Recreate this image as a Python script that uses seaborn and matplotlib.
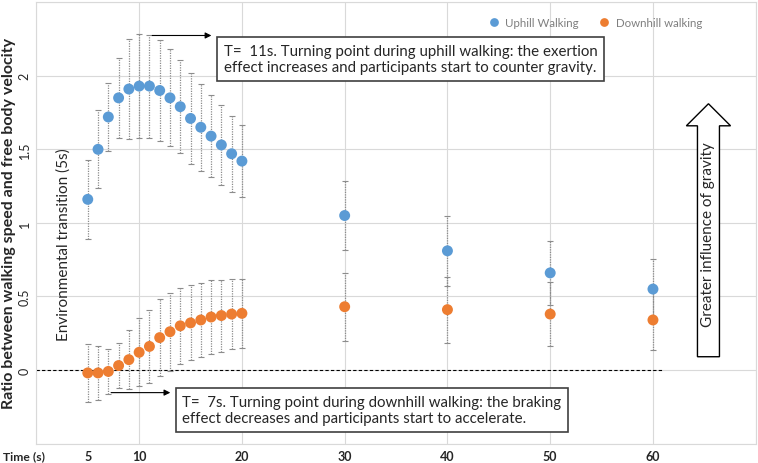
import numpy as np
import pandas as pd
import matplotlib
matplotlib.use("Agg")
import matplotlib.pyplot as plt
import seaborn as sns
from matplotlib.patches import FancyArrow

# data
time_s = [5, 6, 7, 8, 9, 10, 11, 12, 13, 14, 15, 16, 17, 18, 19, 20, 30, 40, 50, 60]
uphill_mean = [1.16, 1.50, 1.72, 1.85, 1.91, 1.93, 1.93, 1.90, 1.85, 1.79, 1.71, 1.65,
               1.59, 1.53, 1.47, 1.42, 1.05, 0.81, 0.66, 0.55]
uphill_err = [0.27, 0.265, 0.23, 0.27, 0.34, 0.355, 0.35, 0.34, 0.33, 0.315, 0.31, 0.295,
              0.28, 0.27, 0.26, 0.245, 0.235, 0.24, 0.215, 0.205]
downhill_mean = [-0.02, -0.02, -0.01, 0.03, 0.07, 0.12, 0.16, 0.22, 0.26, 0.30, 0.32, 0.34,
                 0.36, 0.37, 0.38, 0.385, 0.43, 0.41, 0.38, 0.34]
downhill_err = [0.195, 0.185, 0.15, 0.155, 0.2, 0.23, 0.25, 0.26, 0.265, 0.26, 0.255, 0.25,
                0.25, 0.245, 0.24, 0.235, 0.23, 0.225, 0.215, 0.205]
series_names = ["Uphill Walking", "Downhill walking"]
x_labels = ["5", "10", "20", "30", "40", "50", "60"]
y_labels = ["0", "0.5", "1", "1.5", "2"]

blue = "#5B9BD5"
orange = "#ED7D31"

df = pd.DataFrame({
    "time": time_s * 2,
    "ratio": uphill_mean + downhill_mean,
    "err": uphill_err + downhill_err,
    "walk": [series_names[0]] * len(time_s) + [series_names[1]] * len(time_s),
})

sns.set_style("white")
plt.rcParams["font.family"] = ["Lato", "DejaVu Sans"]

fig = plt.figure(figsize=(7.58, 4.64), dpi=100)
ax = fig.add_axes([0.048, 0.042, 0.949, 0.951])

# error bars (dotted grey with small caps)
for name in series_names:
    sub = df[df["walk"] == name]
    eb = ax.errorbar(sub["time"], sub["ratio"], yerr=sub["err"], fmt="none",
                     ecolor="#8C8C8C", elinewidth=0.9, capsize=2.2, capthick=0.8, zorder=2)
    eb[2][0].set_linestyle((0, (1, 1)))

sns.scatterplot(data=df, x="time", y="ratio", hue="walk", palette=[blue, orange],
                s=62, edgecolor="none", zorder=3, ax=ax)

ax.set_xlim(0, 70)
ax.set_ylim(-0.5, 2.5)

# grid
ax.set_xticks(range(0, 71, 10))
ax.set_xticklabels([""] + x_labels[1:] + [""])
ax.set_xticks([5], minor=True)
ax.set_xticklabels([x_labels[0]], minor=True)
ax.set_yticks(np.arange(-0.5, 2.51, 0.5))
ax.set_yticklabels([""] + y_labels + [""])
ax.grid(True, which="major", color="#D9D9D9", lw=0.8)
ax.grid(False, which="minor")
ax.tick_params(which="both", length=0, pad=5)
ax.tick_params(axis="y", pad=4)
for lab in ax.get_xticklabels(which="both"):
    lab.set_fontweight("bold")
    lab.set_fontsize(9)
for lab in ax.get_yticklabels():
    lab.set_rotation(90)
    lab.set_va("center")
    lab.set_fontsize(9)
for sp in ax.spines.values():
    sp.set_color("#D9D9D9")
    sp.set_linewidth(0.8)

ax.set_xlabel("")
ax.set_ylabel("Ratio between walking speed and free body velocity",
              fontsize=11.5, fontweight="bold", va="center")
ax.yaxis.set_label_coords(-0.038, 0.5)
fig.text(3 / 758, 1 - 457 / 464, "Time (s)", fontsize=8.7, fontweight="bold",
         ha="left", va="center")

# zero line
ax.plot([0, 61], [0, 0], color="black", lw=0.8, ls=(0, (3, 2)), zorder=1)

# legend
handles, labels = ax.get_legend_handles_labels()
leg = ax.legend(handles, labels, loc="center right", bbox_to_anchor=(0.94, 0.955),
                ncol=2, frameon=False, fontsize=8.3, handletextpad=0.0,
                columnspacing=1.2, markerscale=0.8)
for t in leg.get_texts():
    t.set_color("#7F7F7F")

# annotations
box = dict(boxstyle="square,pad=0.45", facecolor="white", edgecolor="#404040", lw=1.2)
ax.text(18.25, 2.115,
        "T=  11s. Turning point during uphill walking: the exertion\n"
        "effect increases and participants start to counter gravity.",
        fontsize=10.8, ha="left", va="center", bbox=box, zorder=5, linespacing=1.2)
ax.annotate("", xy=(17.3, 2.274), xytext=(11, 2.274),
            arrowprops=dict(arrowstyle="-|>", color="black", lw=0.8, mutation_scale=9))

ax.text(14.2, -0.27,
        "T=  7s. Turning point during downhill walking: the braking\n"
        "effect decreases and participants start to accelerate.",
        fontsize=10.8, ha="left", va="center", bbox=box, zorder=5, linespacing=1.2)
ax.annotate("", xy=(13.3, -0.154), xytext=(7, -0.154),
            arrowprops=dict(arrowstyle="-|>", color="black", lw=0.8, mutation_scale=9))

ax.text(2.6, 0.86, "Environmental transition (5s)", rotation=90, fontsize=11,
        ha="center", va="center")

arrow = FancyArrow(65.4, 0.09, 0, 1.72, width=2.14, head_width=4.3, head_length=0.15,
                   length_includes_head=True, facecolor="white", edgecolor="black",
                   lw=1.0, zorder=4)
ax.add_patch(arrow)
ax.text(65.4, 0.93, "Greater influence of gravity", rotation=90, fontsize=11,
        ha="center", va="center", zorder=5)

fig.savefig("out.png", dpi=100)
